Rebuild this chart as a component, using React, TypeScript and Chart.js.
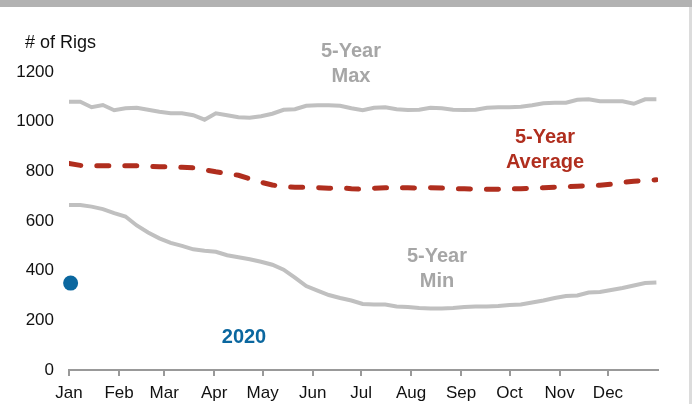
import React, { useEffect, useRef } from "react";
import { Chart, registerables } from "chart.js";

Chart.register(...registerables);

// Week offsets in days from Jan 1 (53 weekly points)
const weekDays: number[] = Array.from({ length: 53 }, (_, i) => i * 7);

const maxValues: number[] = [
  1080, 1080, 1058, 1067, 1046, 1054, 1056, 1048, 1040, 1034, 1034, 1026, 1008,
  1034, 1026, 1018, 1016, 1022, 1032, 1048, 1050, 1064, 1066, 1066, 1064, 1054,
  1046, 1056, 1058, 1050, 1047, 1048, 1056, 1054, 1048, 1047, 1048, 1056, 1058,
  1058, 1060, 1066, 1074, 1076, 1076, 1088, 1090, 1082, 1082, 1082, 1072, 1090,
  1090,
];

const avgValues: number[] = [
  832, 824, 822, 822, 822, 822, 822, 820, 818, 818, 816, 814, 806, 798, 792,
  784, 770, 756, 745, 738, 736, 736, 734, 732, 734, 730, 728, 732, 734, 734,
  734, 732, 734, 733, 730, 730, 728, 728, 728, 730, 730, 732, 734, 736, 738,
  740, 742, 744, 748, 756, 760, 764, 766,
];

const minValues: number[] = [
  664, 664, 658, 648, 632, 618, 582, 554, 530, 512, 500, 486, 480, 476, 462,
  454, 446, 436, 424, 404, 372, 338, 320, 302, 290, 280, 266, 264, 264, 256,
  254, 250, 248, 248, 250, 254, 256, 256, 258, 262, 264, 272, 280, 290, 298,
  300, 312, 314, 322, 330, 340, 350, 352,
];

const y2020Days: number[] = [1];
const y2020Values: number[] = [350];

const monthStarts: number[] = [0, 31, 59, 90, 120, 151, 181, 212, 243, 273, 304, 334];
const monthLabels: string[] = ["Jan", "Feb", "Mar", "Apr", "May", "Jun", "Jul", "Aug", "Sep", "Oct", "Nov", "Dec"];
const yTicks: number[] = [0, 200, 400, 600, 800, 1000, 1200];

const GRAY = "#c0c0c0";
const RED = "#b02e1e";
const BLUE = "#0b679f";
const FONT = "'Liberation Sans', Arial, sans-serif";

const labelsPlugin = {
  id: "labelsPlugin",
  afterDraw(chart: any) {
    const ctx = chart.ctx;
    ctx.save();
    ctx.textBaseline = "alphabetic";
    ctx.textAlign = "left";
    ctx.fillStyle = "#111";
    ctx.font = `18px ${FONT}`;
    ctx.fillText("# of Rigs", 25, 48);

    ctx.textAlign = "center";
    ctx.font = `bold 20px ${FONT}`;
    ctx.fillStyle = "#a6a6a6";
    ctx.fillText("5-Year", 351, 57);
    ctx.fillText("Max", 351, 82);
    ctx.fillText("5-Year", 437, 262);
    ctx.fillText("Min", 437, 287);
    ctx.fillStyle = RED;
    ctx.fillText("5-Year", 545, 143);
    ctx.fillText("Average", 545, 168);
    ctx.fillStyle = BLUE;
    ctx.fillText("2020", 244, 343);
    ctx.restore();
  },
};

export default function App() {
  const ref = useRef<HTMLCanvasElement | null>(null);

  useEffect(() => {
    if (!ref.current) return;
    const toPts = (xs: number[], ys: number[]) => xs.map((x, i) => ({ x, y: ys[i] }));
    const chart = new Chart(ref.current, {
      type: "line",
      data: {
        datasets: [
          {
            label: "5-Year Max",
            data: toPts(weekDays, maxValues),
            borderColor: GRAY,
            borderWidth: 4,
            pointRadius: 0,
            tension: 0,
          },
          {
            label: "5-Year Min",
            data: toPts(weekDays, minValues),
            borderColor: GRAY,
            borderWidth: 4,
            pointRadius: 0,
            tension: 0,
          },
          {
            label: "5-Year Average",
            data: toPts(weekDays, avgValues),
            borderColor: RED,
            borderWidth: 5,
            borderDash: [12, 16],
            borderCapStyle: "round",
            pointRadius: 0,
            tension: 0,
          },
          {
            label: "2020",
            data: toPts(y2020Days, y2020Values),
            borderColor: BLUE,
            backgroundColor: BLUE,
            showLine: false,
            pointRadius: 7.5,
            pointBorderWidth: 0,
            clip: false,
          },
        ],
      },
      options: {
        animation: false,
        responsive: false,
        maintainAspectRatio: false,
        layout: { padding: { top: 72, right: 34, left: 0, bottom: 0 } },
        plugins: { legend: { display: false }, tooltip: { enabled: false } },
        scales: {
          x: {
            type: "linear",
            min: 0,
            max: 365,
            afterBuildTicks: (axis: any) => {
              axis.ticks = monthStarts.map((v) => ({ value: v }));
            },
            afterFit: (scale: any) => {
              scale.height = 34;
            },
            ticks: {
              autoSkip: false,
              maxRotation: 0,
              padding: 7,
              color: "#111",
              font: { size: 17, family: FONT },
              callback: (v: any) => {
                const i = monthStarts.indexOf(Number(v));
                return i >= 0 ? monthLabels[i] : "";
              },
            },
            grid: {
              display: true,
              drawOnChartArea: false,
              drawTicks: true,
              tickLength: 6,
              color: "#999",
              lineWidth: 2,
            },
            border: { display: true, color: "#999", width: 2 },
          },
          y: {
            min: 0,
            max: 1200,
            afterBuildTicks: (axis: any) => {
              axis.ticks = yTicks.map((v) => ({ value: v }));
            },
            afterFit: (scale: any) => {
              scale.width = 69;
            },
            ticks: {
              padding: 15,
              color: "#111",
              font: { size: 17, family: FONT },
              callback: (v: any) => String(v),
            },
            grid: { display: false, drawTicks: false },
            border: { display: false },
          },
        },
      },
      plugins: [labelsPlugin],
    });
    return () => chart.destroy();
  }, []);

  return (
    <div style={{ position: "fixed", left: 0, top: 0, width: 692, height: 404, background: "#fff" }}>
      <canvas ref={ref} width={692} height={404} style={{ display: "block" }} />
      <div style={{ position: "absolute", left: 0, top: 0, width: 692, height: 7, background: "#b2b2b2" }} />
      <div style={{ position: "absolute", left: 689, top: 7, width: 3, height: 397, background: "#dcdcdc" }} />
    </div>
  );
}
